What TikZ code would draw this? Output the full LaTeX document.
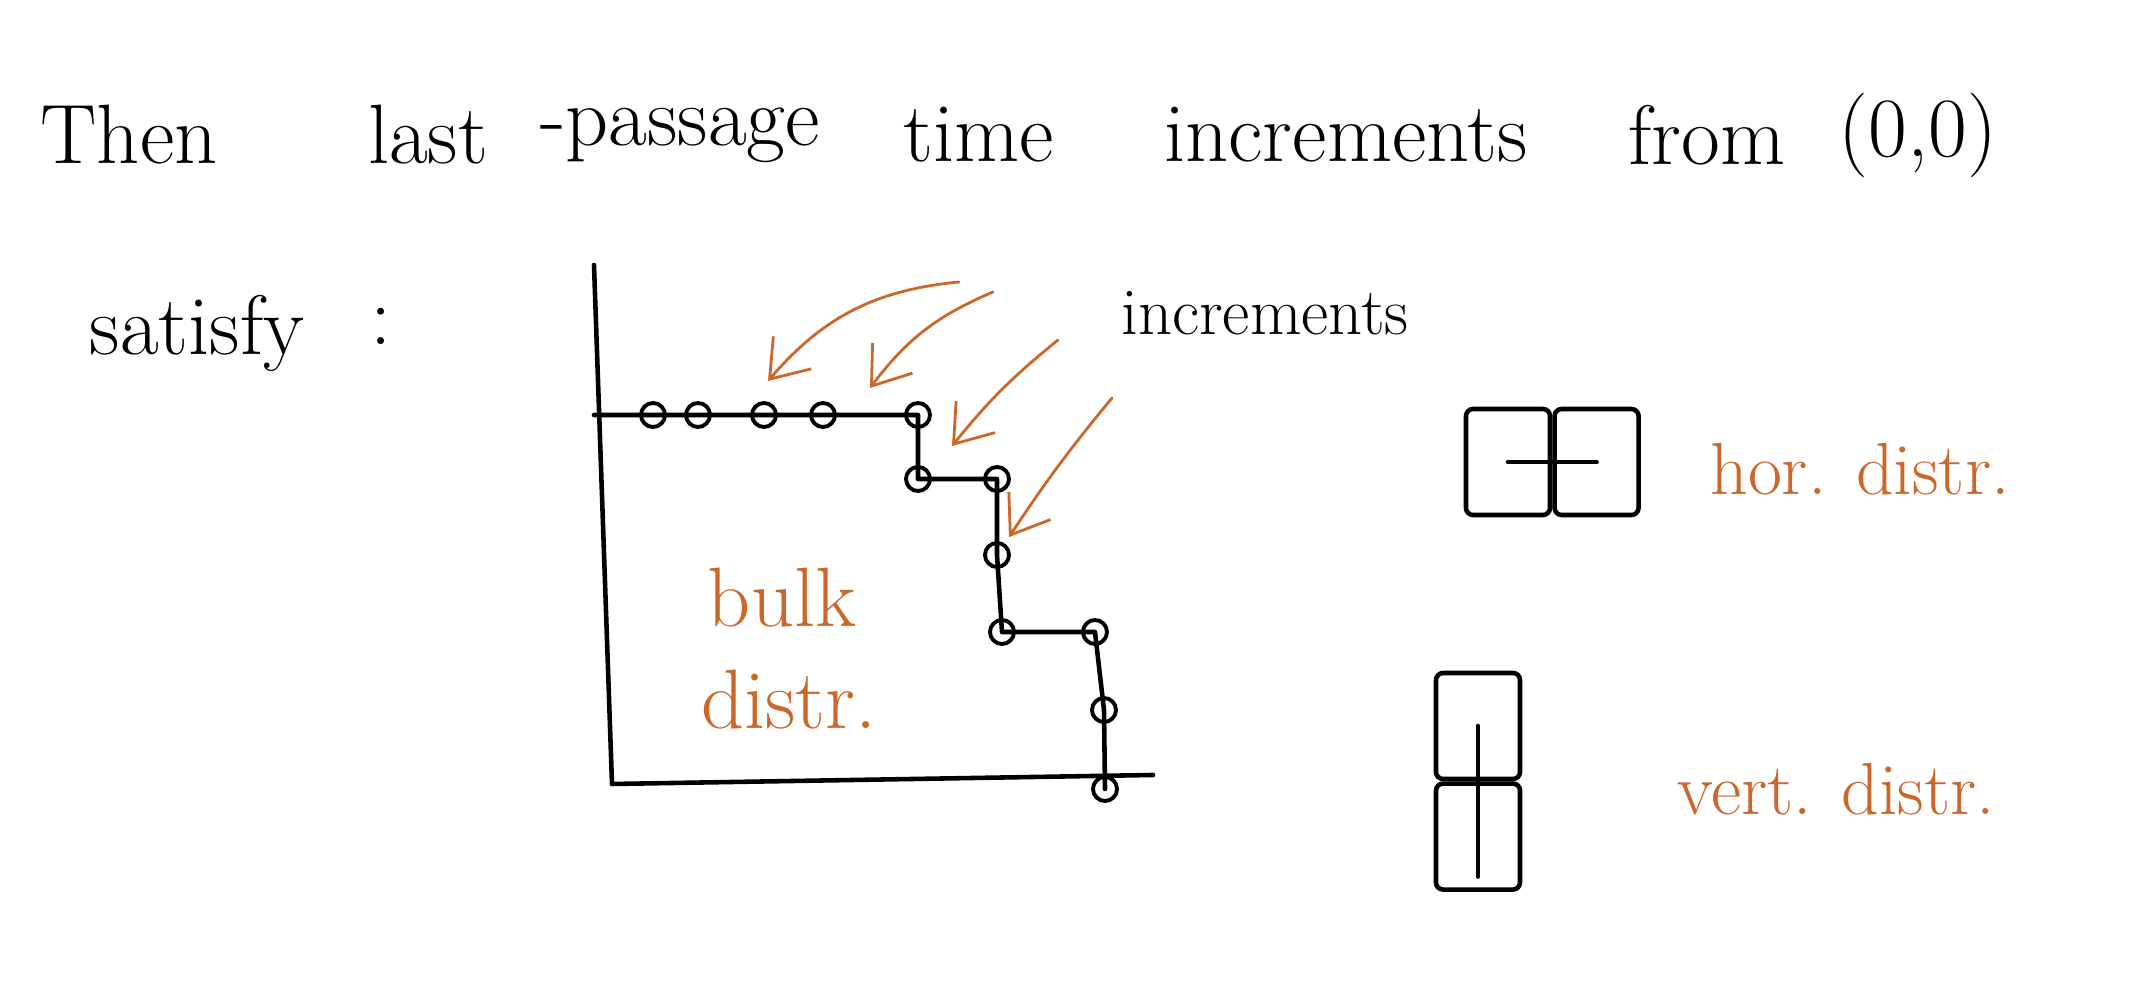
\documentclass[tikz,border=0pt]{standalone}
\usepackage{xcolor}
\usepackage{tikz}
\usetikzlibrary{positioning,arrows.meta}
\definecolor{penorange}{RGB}{204,102,41}

\begin{document}
\begin{tikzpicture}[line width=1.3pt,line cap=round,line join=round,
  dot/.style={draw,circle,inner sep=0pt,minimum size=0.24cm,line width=1.1pt},
  cell/.style={draw,rounded corners=2pt,inner sep=0pt,minimum width=0.84cm,minimum height=1.06cm},
  word/.style={font=\fontsize{24}{28}\selectfont},
  hand/.style={text=penorange,font=\fontsize{21}{25}\selectfont},
  arr/.style={draw=penorange,line width=0.8pt,-{Straight Barb[length=3.5mm,width=5mm]}}]
  \useasboundingbox (0,0) rectangle (21.32,9.90);
  \node[word] (then) at (1.29,8.55) {Then};
  \node[word] (last) at (4.28,8.55) {last};
  \node[word] (passage) at (6.80,8.55) {-passage};
  \node[word] (time) at (9.79,8.55) {time};
  \node[word] (incr) at (13.46,8.55) {increments};
  \node[word] (from) at (17.07,8.55) {from};
  \node[word] (zero) at (19.18,8.55) {(0,0)};
  \node[word] (satisfy) at (1.97,6.57) {satisfy};
  \node[word] (colon) at (3.81,6.64) {:};
  \coordinate (ytop) at (5.94,7.25);
  \coordinate (orig) at (6.12,2.06);
  \coordinate (xend) at (11.53,2.15);
  \draw (ytop) -- (orig) -- (xend);
  \coordinate (p0) at (5.94,5.75);
  \foreach \n/\x/\y in {c1/6.53/5.75,c2/6.98/5.75,c3/7.64/5.75,c4/8.23/5.75,
    c5/9.18/5.75,c6/9.18/5.11,c7/9.97/5.11,c8/9.97/4.35,c9/10.02/3.58,
    c10/10.95/3.58,c11/11.04/2.80,c12/11.05/2.01}
    \node[dot] (\n) at (\x,\y) {};
  \draw (p0) -- (c5.center) -- (c6.center) -- (c7.center) -- (c8.center)
    -- (c9.center) -- (c10.center) -- (c11.center) -- (c12.center);
  \node[font=\fontsize{19}{23}\selectfont] (label) at (12.65,6.77) {increments};
  \coordinate (s1) at (9.59,7.08);
  \coordinate (s2) at (9.93,6.98);
  \coordinate (s3) at (10.58,6.50);
  \coordinate (s4) at (11.12,5.92);
  \coordinate (t1) at (7.68,6.09);
  \coordinate (t2) at (8.70,6.02);
  \coordinate (t3) at (9.52,5.44);
  \coordinate (t4) at (10.09,4.53);
  \foreach \i/\b in {1/22,2/15,3/6,4/3}
    \draw[arr] (s\i) to[bend right=\b] (t\i);
  \node[hand,font=\fontsize{24}{28}\selectfont] (bulk) at (7.82,3.92) {bulk};
  \node[hand,font=\fontsize{24}{28}\selectfont] (bdist) at (7.89,2.90) {distr.};
  \node[cell] (hl) at (15.08,5.28) {};
  \node[cell,right=0pt of hl] (hr) {};
  \draw (hl.center) -- (hr.center);
  \node[hand] (hor) at (18.60,5.21) {hor. distr.};
  \node[cell] (vt) at (14.78,2.64) {};
  \node[cell,below=0pt of vt] (vb) {};
  \draw (vt.center) -- ([yshift=-4mm]vb.center);
  \node[hand] (vert) at (18.36,2.01) {vert. distr.};
\end{tikzpicture}
\end{document}
